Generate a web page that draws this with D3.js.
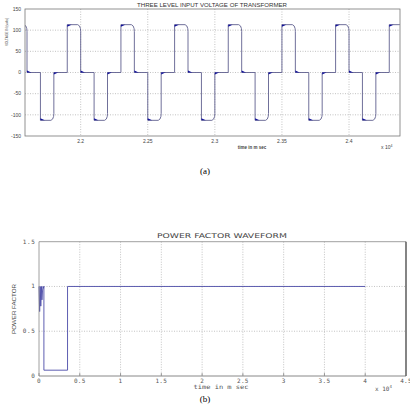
<!DOCTYPE html>
<html>
<head>
<meta charset="utf-8">
<script src="https://cdnjs.cloudflare.com/ajax/libs/d3/7.8.5/d3.min.js"></script>
<style>
body { margin: 0; background: #fff; }
svg { display: block; }
</style>
</head>
<body>
<svg width="410" height="409"></svg>
<script>
// --- top chart data (time in x10^4 m sec, voltage in volts)
var vTicks = [-150, -100, -50, 0, 50, 100, 150];
var tTicks = [2.2, 2.25, 2.3, 2.35, 2.4];
var posStarts = [2.15, 2.19, 2.23, 2.27, 2.31, 2.35, 2.39, 2.43];
var negStarts = [2.17, 2.21, 2.25, 2.29, 2.33, 2.37, 2.41];
var pulseWidth = 0.01;
var level = 113;

// --- bottom chart data (power factor)
var pfTicks = [0, 0.5, 1, 1.5];
var ptTicks = [0, 0.5, 1, 1.5, 2, 2.5, 3, 3.5, 4, 4.5];
var pfTime = [0, 0.008, 0.015, 0.022, 0.03, 0.036, 0.043, 0.05, 0.055, 0.06, 0.06, 0.35, 0.35, 4.0];
var pfValue = [1, 0.72, 1, 0.78, 1, 0.85, 0.95, 1, 0.98, 1, 0.065, 0.065, 1, 1];

var svg = d3.select("svg");
var gridStyle = function(sel) {
    sel.attr("stroke", "#9a9a9a").attr("stroke-width", 0.6).attr("stroke-dasharray", "1,1.5");
}

//==================== (a) ====================
var x1 = d3.scaleLinear().domain([2.1585, 2.438]).range([25, 400]);
var y1 = d3.scaleLinear().domain([-150, 150]).range([136, 9]);
var g1 = svg.append("g");

g1.append("defs").append("clipPath").attr("id", "clipA")
  .append("rect").attr("x", 25).attr("y", 9).attr("width", 375).attr("height", 127);

g1.selectAll(".hg").data(vTicks.slice(1, -1)).enter().append("line")
  .attr("x1", 25).attr("x2", 400)
  .attr("y1", function(d) { return y1(d); }).attr("y2", function(d) { return y1(d); })
  .call(gridStyle);
g1.selectAll(".vg").data(tTicks).enter().append("line")
  .attr("y1", 9).attr("y2", 136)
  .attr("x1", function(d) { return x1(d); }).attr("x2", function(d) { return x1(d); })
  .call(gridStyle);

// build the transitions from the pulse lists
var events = [];
posStarts.forEach(function(s) {
    events.push({t: s, from: 0, to: level});
    events.push({t: s + pulseWidth, from: level, to: 0});
});
negStarts.forEach(function(s) {
    events.push({t: s, from: 0, to: -level});
    events.push({t: s + pulseWidth, from: -level, to: 0});
});
events.sort(function(a, b) { return a.t - b.t; });

var wave = [];
events.forEach(function(e) {
    if (e.from != 0) {
        // rounded corner before leaving a pulse level
        var sg = e.from > 0 ? 1 : -1;
        wave.push([e.t - 0.0022, e.from]);
        wave.push([e.t - 0.0009, e.from - sg * 3]);
        wave.push([e.t - 0.0002, e.from - sg * 9]);
        wave.push([e.t, e.from - sg * 16]);
    } else {
        wave.push([e.t, 0]);
    }
    wave.push([e.t, e.to]);
});

var line1 = d3.line()
  .x(function(d) { return x1(d[0]); })
  .y(function(d) { return y1(d[1]); });

var clipped = g1.append("g").attr("clip-path", "url(#clipA)");
clipped.append("path").datum(wave)
  .attr("d", line1)
  .attr("fill", "none").attr("stroke", "#60608f").attr("stroke-width", 0.9);

// ringing blobs at the start of every level
clipped.selectAll(".blob").data(events).enter().append("path")
  .attr("d", function(e) {
      var dir = e.to > e.from ? 1 : -1;
      return "M" + x1(e.t) + "," + y1(e.to) +
             "L" + x1(e.t + 0.0032) + "," + y1(e.to) +
             "L" + x1(e.t) + "," + y1(e.to - dir * 5) + "Z";
  })
  .attr("fill", "#10109a");

g1.append("rect").attr("x", 25).attr("y", 9).attr("width", 375).attr("height", 127)
  .attr("fill", "none").attr("stroke", "#777").attr("stroke-width", 0.8);

g1.selectAll(".yl").data(vTicks).enter().append("text")
  .attr("x", 21).attr("y", function(d) { return y1(d) + 1.8; })
  .attr("text-anchor", "end").attr("font-family", "Liberation Sans").attr("font-size", 5)
  .attr("fill", "#444").text(function(d) { return d; });
g1.selectAll(".xl").data(tTicks).enter().append("text")
  .attr("x", function(d) { return x1(d); }).attr("y", 142.5)
  .attr("text-anchor", "middle").attr("font-family", "Liberation Sans").attr("font-size", 5)
  .attr("fill", "#444").text(function(d) { return d; });

g1.append("text").attr("x", 212).attr("y", 6.5).attr("text-anchor", "middle")
  .attr("font-family", "Liberation Sans").attr("font-size", 5.5).attr("fill", "#333")
  .attr("textLength", 150).attr("lengthAdjust", "spacingAndGlyphs")
  .text("THREE LEVEL INPUT VOLTAGE OF TRANSFORMER");
g1.append("text").attr("transform", "translate(8,32) rotate(-90)").attr("text-anchor", "middle")
  .attr("font-family", "Liberation Sans").attr("font-size", 4.2).attr("fill", "#333")
  .attr("textLength", 28).attr("lengthAdjust", "spacingAndGlyphs")
  .text("VOLTAGE IN (volts)");
g1.append("text").attr("x", 252).attr("y", 148.5).attr("text-anchor", "middle")
  .attr("font-family", "Liberation Sans").attr("font-size", 4.5).attr("font-weight", "bold").attr("fill", "#444")
  .text("time in m sec");
var e1 = g1.append("text").attr("x", 381).attr("y", 149)
  .attr("font-family", "Liberation Sans").attr("font-size", 5).attr("fill", "#444");
e1.append("tspan").text("x 10");
e1.append("tspan").attr("dy", -2.5).attr("font-size", 3.5).text("4");

svg.append("text").attr("x", 205).attr("y", 174).attr("text-anchor", "middle")
  .attr("font-family", "Liberation Serif").attr("font-size", 9).text("(a)");

//==================== (b) ====================
var x2 = d3.scaleLinear().domain([0, 4.5]).range([39, 406]);
var y2 = d3.scaleLinear().domain([0, 1.5]).range([376, 241.7]);
var g2 = svg.append("g");

g2.selectAll(".hg").data([0.5, 1]).enter().append("line")
  .attr("x1", 39).attr("x2", 406)
  .attr("y1", function(d) { return y2(d); }).attr("y2", function(d) { return y2(d); })
  .call(gridStyle);
g2.selectAll(".vg").data(ptTicks.slice(1, -1)).enter().append("line")
  .attr("y1", 241.7).attr("y2", 376)
  .attr("x1", function(d) { return x2(d); }).attr("x2", function(d) { return x2(d); })
  .call(gridStyle);

var line2 = d3.line()
  .x(function(d, i) { return x2(pfTime[i]); })
  .y(function(d, i) { return y2(pfValue[i]); });
g2.append("path").datum(pfTime)
  .attr("d", line2)
  .attr("fill", "none").attr("stroke", "#4c4ca8").attr("stroke-width", 0.9);

g2.append("path").attr("d", "M39,376V241.7H406")
  .attr("fill", "none").attr("stroke", "#888").attr("stroke-width", 0.8);
g2.append("line").attr("x1", 39).attr("x2", 406).attr("y1", 376).attr("y2", 376)
  .attr("stroke", "#888").attr("stroke-width", 1);
g2.append("line").attr("x1", 406).attr("x2", 406).attr("y1", 241.7).attr("y2", 376)
  .attr("stroke", "#333").attr("stroke-width", 1.2);

g2.selectAll(".xt").data(ptTicks).enter().append("line")
  .attr("x1", function(d) { return x2(d); }).attr("x2", function(d) { return x2(d); })
  .attr("y1", 376).attr("y2", 373).attr("stroke", "#888").attr("stroke-width", 0.8);

g2.selectAll(".yl").data(pfTicks).enter().append("text")
  .attr("x", 35.5).attr("y", function(d) { return y2(d) + 2; })
  .attr("text-anchor", "end").attr("font-family", "DejaVu Sans Mono").attr("font-size", 6)
  .attr("letter-spacing", 0.6).attr("fill", "#555").text(function(d) { return d; });
g2.selectAll(".xl").data(ptTicks).enter().append("text")
  .attr("x", function(d) { return x2(d); }).attr("y", 383)
  .attr("text-anchor", "middle").attr("font-family", "DejaVu Sans Mono").attr("font-size", 6)
  .attr("letter-spacing", 0.3).attr("fill", "#555").text(function(d) { return d; });

g2.append("text").attr("x", 222).attr("y", 238).attr("text-anchor", "middle")
  .attr("font-family", "DejaVu Sans").attr("font-size", 6.5).attr("fill", "#444")
  .attr("textLength", 130).attr("lengthAdjust", "spacingAndGlyphs")
  .text("POWER FACTOR WAVEFORM");
g2.append("text").attr("transform", "translate(16,309) rotate(-90)").attr("text-anchor", "middle")
  .attr("font-family", "Liberation Sans").attr("font-size", 6).attr("fill", "#444")
  .attr("textLength", 50).attr("lengthAdjust", "spacingAndGlyphs")
  .text("POWER FACTOR");
g2.append("text").attr("x", 221).attr("y", 388.5).attr("text-anchor", "middle")
  .attr("font-family", "DejaVu Sans Mono").attr("font-size", 6).attr("fill", "#555")
  .attr("textLength", 55).attr("lengthAdjust", "spacingAndGlyphs")
  .text("time in m sec");
var e2 = g2.append("text").attr("x", 375).attr("y", 391)
  .attr("font-family", "DejaVu Sans Mono").attr("font-size", 6).attr("fill", "#555");
e2.append("tspan").text("x 10");
e2.append("tspan").attr("dy", -3).attr("font-size", 4).text("4");

svg.append("text").attr("x", 205).attr("y", 402).attr("text-anchor", "middle")
  .attr("font-family", "Liberation Serif").attr("font-size", 9).text("(b)");
</script>
</body>
</html>
